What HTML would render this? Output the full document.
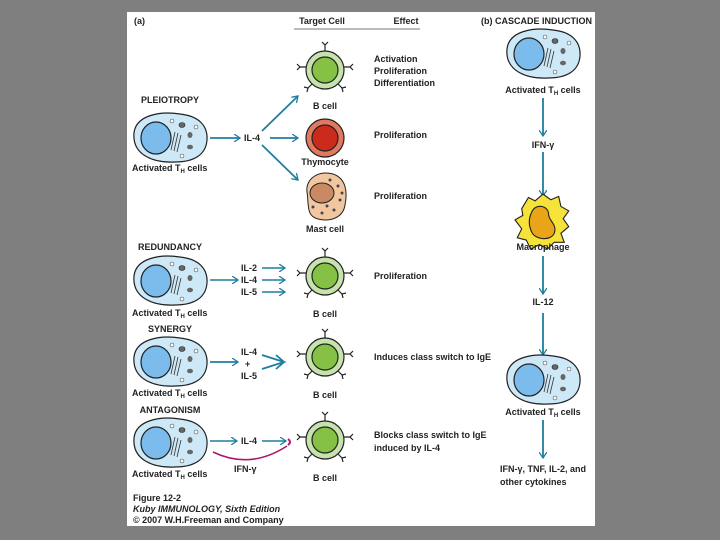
<!DOCTYPE html><html><head><style>
body{margin:0;background:#7f7f7f;width:720px;height:540px;overflow:hidden}
svg{position:absolute;left:0;top:0}
text{font-family:"Liberation Sans",sans-serif;font-size:9px;font-weight:bold;fill:#222}
</style></head><body>
<svg width="720" height="540" viewBox="0 0 720 540">
<defs>
<marker id="a" markerWidth="8" markerHeight="8" refX="6" refY="4" orient="auto" markerUnits="userSpaceOnUse"><path d="M0,0 L6,4 L0,8" fill="none" stroke="#1f7ea0" stroke-width="1.3"/></marker>
<g id="th">
<path d="M-36,-5 C-34,-23 -10,-27 10,-24 C29,-22 38,-12 37,2 C36,16 25,24 5,24 C-15,25 -38,18 -36,-5Z" fill="#cde8f6" stroke="#222" stroke-width="1.2"/>
<ellipse cx="-14" cy="0" rx="15" ry="16" fill="#7bbcec" stroke="#222" stroke-width="1.2"/>
<ellipse cx="12" cy="-13" rx="3" ry="2.5" fill="#666" stroke="#222" stroke-width=".6"/>
<ellipse cx="20" cy="-3" rx="2.5" ry="3" fill="#666"/>
<ellipse cx="20" cy="9" rx="3" ry="2.3" fill="#666"/>
<path d="M5,-6 L1,12 M8,-5 L4,13 M11,-3 L7,14" stroke="#333" stroke-width=".8"/>
<circle cx="2" cy="-17" r="2" fill="#fff" stroke="#333" stroke-width=".5"/>
<circle cx="26" cy="-11" r="2" fill="#fff" stroke="#333" stroke-width=".5"/>
<circle cx="12" cy="18" r="2" fill="#fff" stroke="#333" stroke-width=".5"/>
</g>
<g id="bc">
<circle r="19" fill="#c6e2ad" stroke="#222" stroke-width="1.2"/>
<circle r="13" fill="#84c145" stroke="#222" stroke-width="1.2"/>
<path d="M0,-19 V-25 M-3,-28 L0,-25 L3,-28 M-19,-3 H-25 M-28,-6 L-25,-3 L-28,0 M19,-3 H25 M28,-6 L25,-3 L28,0 M-13,14 L-17,18 M-21,17 L-17,18 L-18,22 M13,14 L17,18 M21,17 L17,18 L18,22" stroke="#222" stroke-width="1.2" fill="none"/>
</g>
</defs>
<rect x="127" y="12" width="468" height="514" fill="#fff"/>
<text x="134" y="24">(a)</text>
<text x="322" y="24" text-anchor="middle">Target Cell</text>
<text x="406" y="24" text-anchor="middle">Effect</text>
<line x1="294" y1="29" x2="420" y2="29" stroke="#777" stroke-width="1"/>
<text x="481" y="24">(b) CASCADE INDUCTION</text>

<text x="170" y="103" text-anchor="middle">PLEIOTROPY</text>
<use href="#th" x="170" y="138"/>
<text x="132" y="171">Activated T<tspan font-size="6" dy="2">H</tspan><tspan dy="-2"> cells</tspan></text>
<g stroke="#1f7ea0" stroke-width="1.8" fill="none" marker-end="url(#a)">
<line x1="210" y1="138" x2="240" y2="138"/><line x1="270" y1="138" x2="298" y2="138"/>
<line x1="262" y1="131" x2="298" y2="96"/><line x1="262" y1="145" x2="298" y2="180"/>
</g>
<text x="244" y="141">IL-4</text>
<use href="#bc" x="325" y="70"/>
<text x="325" y="109" text-anchor="middle">B cell</text>
<circle cx="325" cy="138" r="19" fill="#e07a5f" stroke="#222" stroke-width="1.2"/>
<circle cx="325" cy="138" r="13" fill="#cc2a1c" stroke="#222" stroke-width="1.2"/>
<text x="325" y="165" text-anchor="middle">Thymocyte</text>
<path d="M307,192 C305,178 320,170 333,174 C345,178 348,190 345,205 C343,218 330,222 318,219 C306,216 309,205 307,192Z" fill="#f2c7a0" stroke="#222"/>
<ellipse cx="322" cy="193" rx="12" ry="10" fill="#c98a63" stroke="#222"/>
<g fill="#445"><circle cx="338" cy="186" r="1.5"/><circle cx="340" cy="200" r="1.5"/><circle cx="334" cy="210" r="1.5"/><circle cx="322" cy="213" r="1.5"/><circle cx="313" cy="207" r="1.5"/><circle cx="330" cy="180" r="1.5"/><circle cx="342" cy="193" r="1.5"/><circle cx="327" cy="206" r="1.5"/></g>
<text x="325" y="232" text-anchor="middle">Mast cell</text>
<text x="374" y="62">Activation</text><text x="374" y="74">Proliferation</text><text x="374" y="86">Differentiation</text>
<text x="374" y="138">Proliferation</text><text x="374" y="199">Proliferation</text>

<text x="170" y="250" text-anchor="middle">REDUNDANCY</text>
<use href="#th" x="170" y="281"/>
<text x="132" y="316">Activated T<tspan font-size="6" dy="2">H</tspan><tspan dy="-2"> cells</tspan></text>
<g stroke="#1f7ea0" stroke-width="1.5" fill="none" marker-end="url(#a)">
<line x1="210" y1="280" x2="238" y2="280"/><line x1="262" y1="268" x2="285" y2="268"/><line x1="262" y1="280" x2="285" y2="280"/><line x1="262" y1="292" x2="285" y2="292"/>
</g>
<text x="241" y="271">IL-2</text><text x="241" y="283">IL-4</text><text x="241" y="295">IL-5</text>
<use href="#bc" x="325" y="276"/>
<text x="325" y="317" text-anchor="middle">B cell</text>
<text x="374" y="279">Proliferation</text>

<text x="170" y="332" text-anchor="middle">SYNERGY</text>
<use href="#th" x="170" y="362"/>
<text x="132" y="396">Activated T<tspan font-size="6" dy="2">H</tspan><tspan dy="-2"> cells</tspan></text>
<g stroke="#1f7ea0" stroke-width="1.8" fill="none">
<line x1="210" y1="362" x2="238" y2="362" marker-end="url(#a)"/>
<path d="M262,355 L284,362 L262,369 M276,355 L284,362 L276,369"/>
</g>
<text x="241" y="355">IL-4</text><text x="245" y="367">+</text><text x="241" y="379">IL-5</text>
<use href="#bc" x="325" y="357"/>
<text x="325" y="398" text-anchor="middle">B cell</text>
<text x="374" y="360">Induces class switch to IgE</text>

<text x="170" y="413" text-anchor="middle">ANTAGONISM</text>
<use href="#th" x="170" y="443"/>
<text x="132" y="477">Activated T<tspan font-size="6" dy="2">H</tspan><tspan dy="-2"> cells</tspan></text>
<g stroke="#1f7ea0" stroke-width="1.5" fill="none" marker-end="url(#a)">
<line x1="210" y1="441" x2="237" y2="441"/><line x1="262" y1="441" x2="286" y2="441"/>
</g>
<text x="241" y="444">IL-4</text>
<path d="M213,452 Q250,470 287,446" stroke="#b0166f" stroke-width="1.6" fill="none"/>
<path d="M288,439 Q292,442 288,445" stroke="#b0166f" stroke-width="2" fill="none"/>
<text x="234" y="472">IFN-γ</text>
<use href="#bc" x="325" y="440"/>
<text x="325" y="481" text-anchor="middle">B cell</text>
<text x="374" y="438">Blocks class switch to IgE</text><text x="374" y="451">induced by IL-4</text>

<use href="#th" x="543" y="54"/>
<text x="543" y="93" text-anchor="middle">Activated T<tspan font-size="6" dy="2">H</tspan><tspan dy="-2"> cells</tspan></text>
<g stroke="#1f7ea0" stroke-width="1.8" fill="none" marker-end="url(#a)">
<line x1="543" y1="98" x2="543" y2="136"/><line x1="543" y1="152" x2="543" y2="196"/>
<line x1="543" y1="256" x2="543" y2="294"/><line x1="543" y1="313" x2="543" y2="355"/>
<line x1="543" y1="420" x2="543" y2="458"/>
</g>
<text x="543" y="148" text-anchor="middle">IFN-γ</text>
<g transform="translate(543,221) scale(1.12) translate(-543,-221)">
<path d="M524,210 L530,200 L536,203 L543,197 L550,202 L557,199 L559,208 L566,212 L561,219 L566,226 L559,232 L562,240 L553,240 L547,246 L540,242 L532,246 L528,238 L520,236 L524,228 L518,220 L525,216Z" fill="#f6e33a" stroke="#222"/>
<path d="M533,213 C536,205 548,207 548,215 C548,221 556,224 553,232 C550,239 536,238 533,231 C530,225 530,219 533,213Z" fill="#e9a418" stroke="#222"/>
</g>
<text x="543" y="250" text-anchor="middle">Macrophage</text>
<text x="543" y="305" text-anchor="middle">IL-12</text>
<use href="#th" x="543" y="380"/>
<text x="543" y="415" text-anchor="middle">Activated T<tspan font-size="6" dy="2">H</tspan><tspan dy="-2"> cells</tspan></text>
<text x="500" y="472">IFN-γ, TNF, IL-2, and</text><text x="500" y="485">other cytokines</text>

<text x="133" y="501" font-size="10">Figure 12-2</text>
<text x="133" y="512" font-size="8" font-style="italic">Kuby IMMUNOLOGY, Sixth Edition</text>
<text x="133" y="523" font-size="8" font-weight="normal">© 2007 W.H.Freeman and Company</text>
</svg></body></html>
